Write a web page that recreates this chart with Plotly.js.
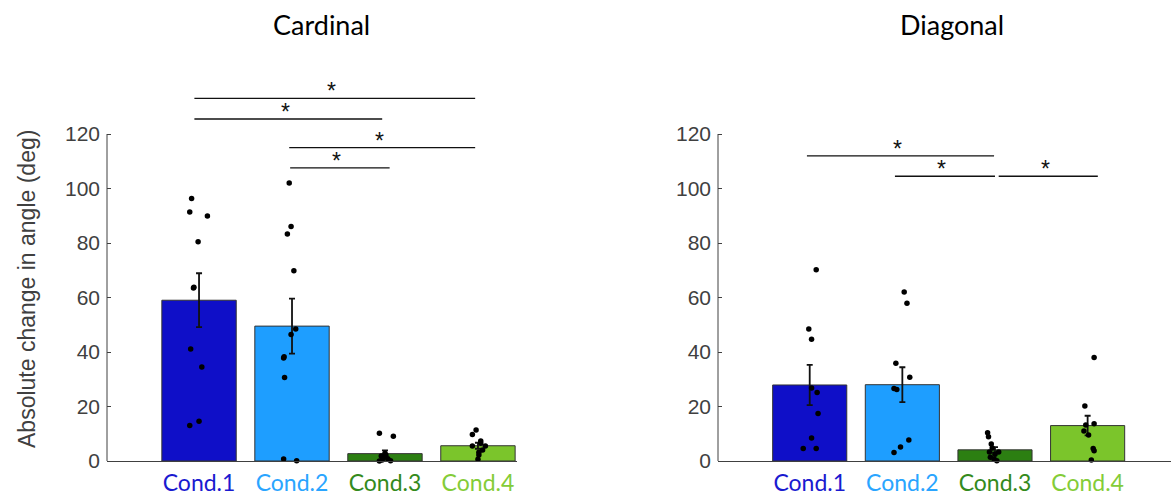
<!DOCTYPE html>
<html>
<head>
<meta charset="utf-8">
<script src="https://cdn.plot.ly/plotly-3.0.1.min.js"></script>
<style>html,body{margin:0;padding:0;background:#fff;}#chart{width:1175px;height:498px;}</style>
</head>
<body>
<div id="chart"></div>
<script>
// ---------- data ----------
const categories = ['Cond.1', 'Cond.2', 'Cond.3', 'Cond.4'];
const barColors = ['#0f0fc8', '#1e9eff', '#2c7f12', '#7bc52b'];
const labelColors = ['#1a1ad0', '#2aa5ff', '#348a1c', '#84cc38'];
const panelTitles = ['Cardinal', 'Diagonal'];
const yTitle = 'Absolute change in angle (deg)';
const yTicks = [0, 20, 40, 60, 80, 100, 120];

// Cardinal
const cardMeans = [59.0, 49.5, 2.7, 5.6];
const cardErr = [9.9, 10.1, 1.2, 1.1];
const cardPoints = [
  [96.3, 91.4, 89.9, 80.5, 63.5, 63.8, 41.1, 34.5, 13.0, 14.6],
  [102.0, 86.1, 83.3, 69.8, 48.4, 46.4, 37.8, 38.3, 30.6, 0.7, 0.1],
  [10.2, 9.1, 2.8, 1.8, 0.0, 0.1, 1.2, 0.8, 2.2, 0.4],
  [11.4, 9.7, 7.3, 5.5, 5.5, 4.0, 2.2, 0.6, 6.5, 3.2]
];
const cardJitter = [
  [-0.08, -0.10, 0.09, -0.01, -0.06, -0.055, -0.09, 0.03, -0.10, 0.0],
  [-0.03, -0.01, -0.05, 0.02, 0.04, -0.01, -0.09, -0.085, -0.08, -0.09, 0.05],
  [-0.06, 0.09, 0.0, -0.04, -0.06, 0.06, -0.02, 0.03, 0.01, -0.03],
  [-0.02, -0.06, 0.03, -0.06, 0.08, 0.05, 0.01, 0.0, 0.03, 0.01]
];
const cardSigX0 = [0.95, 0.95, 1.97, 1.98];
const cardSigX1 = [3.97, 2.97, 3.97, 3.05];
const cardSigY = [133.1, 125.5, 115.0, 107.6];

// Diagonal
const diagMeans = [27.9, 28.0, 4.1, 13.0];
const diagErr = [7.4, 6.4, 1.0, 3.6];
const diagPoints = [
  [70.2, 48.4, 44.7, 26.8, 25.1, 17.4, 8.4, 4.6, 4.6],
  [62.0, 57.9, 35.9, 30.7, 26.6, 26.2, 7.7, 5.1, 3.1],
  [10.4, 8.9, 6.2, 4.8, 3.3, 3.3, 2.5, 1.4, 0.7, 0.1],
  [38.0, 20.2, 13.2, 13.7, 11.0, 9.5, 4.6, 3.8, 0.4]
];
const diagJitter = [
  [0.07, -0.01, 0.02, 0.02, 0.08, 0.09, 0.02, -0.07, 0.07],
  [0.02, 0.05, -0.07, 0.08, -0.09, -0.06, 0.07, -0.02, -0.09],
  [-0.08, -0.07, -0.04, -0.03, -0.06, 0.04, 0.0, -0.05, -0.01, 0.02],
  [0.07, -0.03, -0.02, 0.07, -0.04, 0.01, 0.06, 0.07, 0.04]
];
const diagSigX0 = [0.97, 1.92, 3.04];
const diagSigX1 = [2.99, 3.00, 4.11];
const diagSigY = [112.0, 104.5, 104.5];

// ---------- build ----------
const catPos = categories.map((c, i) => i + 1);
const axisGray = '#404040';
const tickFont = {family: 'Liberation Sans, Arial, sans-serif', size: 21, color: axisGray};
const labelFont = {family: 'Lato, sans-serif', size: 23};
const tickText = categories.map((c, i) => '<span style="color:' + labelColors[i] + '">' + c + '</span>');

function panel(means, err, points, jitter, xa, ya) {
  const bar = {
    type: 'bar', x: catPos, y: means, width: 0.8,
    xaxis: xa, yaxis: ya,
    marker: {color: barColors, line: {color: '#333333', width: 1}},
    error_y: {type: 'data', array: err, symmetric: true, color: '#111', thickness: 1.8, width: 3},
    hoverinfo: 'skip', showlegend: false
  };
  const px = [], py = [];
  points.forEach((arr, i) => arr.forEach((v, j) => { px.push(catPos[i] + jitter[i][j]); py.push(v); }));
  const dots = {
    type: 'scatter', mode: 'markers', x: px, y: py, xaxis: xa, yaxis: ya,
    marker: {color: '#000', size: 5.5}, cliponaxis: false, hoverinfo: 'skip', showlegend: false
  };
  return [bar, dots];
}

const data = [
  ...panel(cardMeans, cardErr, cardPoints, cardJitter, 'x', 'y'),
  ...panel(diagMeans, diagErr, diagPoints, diagJitter, 'x2', 'y2')
];

const shapes = [];
const annotations = [];
// y-axis lines (0..120 only)
[['x', 'y'], ['x2', 'y2']].forEach(([xa, ya]) => {
  shapes.push({type: 'line', xref: xa + ' domain', yref: ya, x0: 0, x1: 0, y0: yTicks[0], y1: yTicks[yTicks.length - 1],
    line: {color: axisGray, width: 1}});
});
function sig(x0s, x1s, ys, xa, ya) {
  ys.forEach((y, i) => {
    shapes.push({type: 'line', xref: xa, yref: ya, x0: x0s[i], x1: x1s[i], y0: y, y1: y, line: {color: '#111', width: 1.3}});
    annotations.push({xref: xa, yref: ya, x: (x0s[i] + x1s[i]) / 2, y: y, text: '*', showarrow: false,
      xanchor: 'center', yanchor: 'middle', xshift: -3, yshift: 7,
      font: {family: 'Liberation Sans, Arial, sans-serif', size: 23, color: '#111'}});
  });
}
sig(cardSigX0, cardSigX1, cardSigY, 'x', 'y');
sig(diagSigX0, diagSigX1, diagSigY, 'x2', 'y2');

// titles
annotations.push({xref: 'paper', yref: 'paper', x: 321 / 1175, y: 1 - 25 / 498, text: panelTitles[0], showarrow: false,
  xanchor: 'center', yanchor: 'middle', font: {family: 'Lato, sans-serif', size: 27, color: '#000'}});
annotations.push({xref: 'paper', yref: 'paper', x: 952 / 1175, y: 1 - 25 / 498, text: panelTitles[1], showarrow: false,
  xanchor: 'center', yanchor: 'middle', font: {family: 'Lato, sans-serif', size: 27, color: '#000'}});
annotations.push({xref: 'paper', yref: 'paper', x: 27 / 1175, y: 1 - 289 / 498, text: yTitle, showarrow: false,
  textangle: -90, xanchor: 'center', yanchor: 'middle', font: {family: 'Liberation Sans, Arial, sans-serif', size: 23, color: axisGray}});

function xaxisDef(domain, range, anchor) {
  return {domain: domain, range: range, anchor: anchor, tickvals: catPos, ticktext: tickText,
    tickfont: labelFont, ticks: '', showline: true, linecolor: axisGray, linewidth: 1,
    showgrid: false, zeroline: false, fixedrange: true, ticklabelstandoff: 1};
}
function yaxisDef(anchor) {
  return {domain: [37 / 498, 1 - 79.5 / 498], range: [0, 140], anchor: anchor, tickvals: yTicks,
    ticks: 'inside', ticklen: 4, tickcolor: axisGray, tickfont: tickFont, showline: false,
    showgrid: false, zeroline: false, fixedrange: true, ticklabelstandoff: 6};
}

const layout = {
  width: 1175, height: 498,
  margin: {l: 0, r: 0, t: 0, b: 0},
  paper_bgcolor: '#fff', plot_bgcolor: '#fff',
  showlegend: false,
  bargap: 0.2,
  xaxis: xaxisDef([107 / 1175, 517 / 1175], [0.01, 4.42], 'y'),
  xaxis2: xaxisDef([718 / 1175, 1171 / 1175], [0.01, 4.9], 'y2'),
  yaxis: yaxisDef('x'),
  yaxis2: yaxisDef('x2'),
  shapes: shapes,
  annotations: annotations
};

Plotly.newPlot('chart', data, layout, {displayModeBar: false, staticPlot: true});
</script>
</body>
</html>
